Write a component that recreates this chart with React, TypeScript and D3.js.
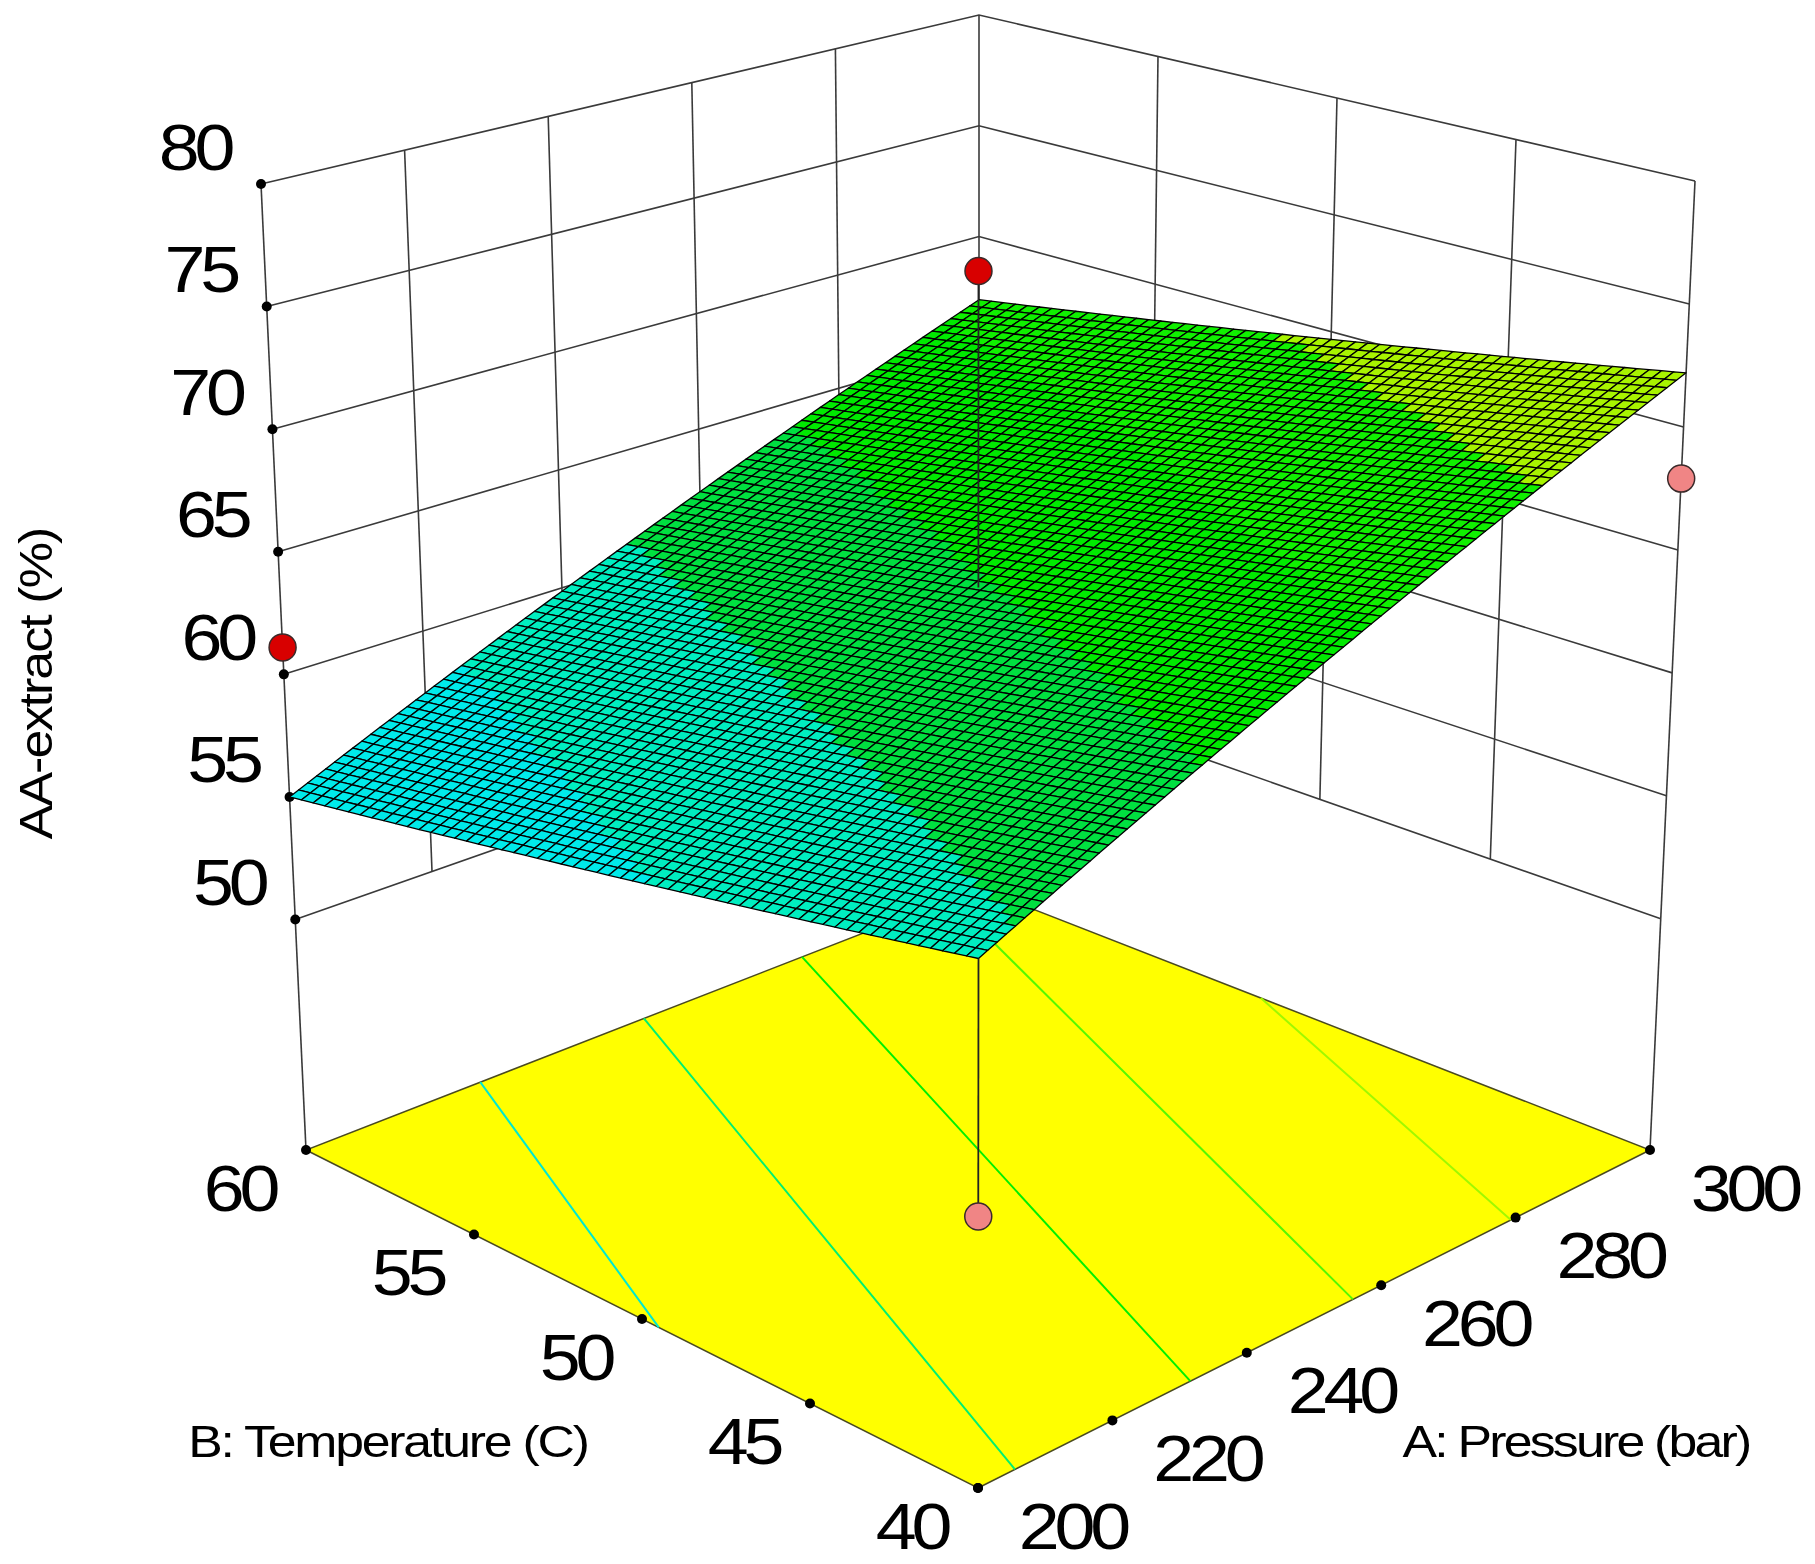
import { useEffect, useRef } from "react";
import * as d3 from "d3";

const pressureTicks = [200, 220, 240, 260, 280, 300];
const temperatureTicks = [40, 45, 50, 55, 60];
const extractTicks = [50, 55, 60, 65, 70, 75, 80];

// surface height at the four corners of the design space
const surfaceAt200 = [60.3, 55.0]; // T = 40, T = 60
const surfaceAt300 = [72.2, 67.15];

// contour lines on the floor, [pressure, temperature] at each end, low side to the left
const contourStart = [[200, 49.5], [205.5, 40], [231.6, 40], [255.8, 40], [279.3, 40]];
const contourEnd = [[225.9, 60], [250.2, 60], [273.7, 60], [295.7, 60], [300, 51.6]];
const contourColors = ["#00E8D0", "#00F070", "#00F000", "#55F800", "#A0F800"];

const bandColors = ["#00EAEA", "#00EEC0", "#00E040", "#00EA00", "#10F000", "#A8F400"];

// design points and the height of the fitted surface under them
const designPressure = [250, 200, 300, 200];
const designTemperature = [50, 40, 40, 60];
const designExtract = [77.2, 50.7, 67.9, 61.1];
const designFit = [64.3, 60.3, 72.2, 55.0];
const designColor = ["#D80000", "#F08585", "#F08585", "#D80000"];

const MESH_A = 75;
const MESH_B = 58;
const FONT = "'Liberation Sans', Arial, sans-serif";

// screen position of the box corners: [A low, B low], [A high, B low], [A high, B high], [A low, B high]
const floorQuad = [[978, 1488], [1650, 1150], [979, 888], [306, 1150]];
const topQuad = [[979, 429], [1695, 181], [979, 15], [261, 184]];

const uScale = d3.scaleLinear().domain([200, 300]).range([0, 1]);
const vScale = d3.scaleLinear().domain([40, 60]).range([0, 1]);
const wScale = d3.scaleLinear().domain([40.6, 80]).range([0, 1]);

function bilinear(q: number[][], u: number, v: number) {
  return [0, 1].map(
    (i) =>
      q[0][i] * (1 - u) * (1 - v) + q[1][i] * u * (1 - v) + q[2][i] * u * v + q[3][i] * (1 - u) * v
  );
}

function project(a: number, b: number, z: number): [number, number] {
  const u = uScale(a);
  const v = vScale(b);
  const w = wScale(z);
  const p0 = bilinear(floorQuad, u, v);
  const p1 = bilinear(topQuad, u, v);
  return [p0[0] + (p1[0] - p0[0]) * w, p0[1] + (p1[1] - p0[1]) * w];
}

function surfaceZ(a: number, b: number) {
  const u = uScale(a);
  const v = vScale(b);
  const low = surfaceAt200[0] + (surfaceAt200[1] - surfaceAt200[0]) * v;
  const high = surfaceAt300[0] + (surfaceAt300[1] - surfaceAt300[0]) * v;
  return low + (high - low) * u;
}

// a cell takes the colour of the last contour it lies beyond
function bandColor(a: number, b: number) {
  let n = 0;
  contourStart.forEach(([a0, b0], i) => {
    const [a1, b1] = contourEnd[i];
    if ((a1 - a0) * (b - b0) - (b1 - b0) * (a - a0) < 0) n += 1;
  });
  return bandColors[n];
}

export default function App() {
  const svgRef = useRef<SVGSVGElement>(null);

  useEffect(() => {
    if (!svgRef.current) return;
    const svg = d3.select(svgRef.current);
    svg.selectAll("*").remove();

    const line = d3.line();
    const zMin = wScale.domain()[0];
    const [aMin, aMax] = uScale.domain();
    const [bMin, bMax] = vScale.domain();

    const gridLine = (pts: [number, number][]) =>
      svg.append("path").attr("d", line(pts)).attr("fill", "none").attr("stroke", "#3a3a3a").attr("stroke-width", 1.6);

    // walls: height lines
    extractTicks.forEach((z) => {
      gridLine([project(aMin, bMax, z), project(aMax, bMax, z), project(aMax, bMin, z)]);
    });
    // walls: verticals
    pressureTicks.slice(1, -1).forEach((a) => gridLine([project(a, bMax, 50), project(a, bMax, 80)]));
    temperatureTicks.slice(1, -1).forEach((b) => gridLine([project(aMax, b, 50), project(aMax, b, 80)]));
    gridLine([project(aMin, bMax, zMin), project(aMin, bMax, 80)]);
    gridLine([project(aMax, bMax, zMin), project(aMax, bMax, 80)]);
    gridLine([project(aMax, bMin, zMin), project(aMax, bMin, 80)]);

    // floor
    svg
      .append("path")
      .attr(
        "d",
        line([project(aMin, bMin, zMin), project(aMax, bMin, zMin), project(aMax, bMax, zMin), project(aMin, bMax, zMin)]) + "Z"
      )
      .attr("fill", "#FFFF00")
      .attr("stroke", "#4a4a20")
      .attr("stroke-width", 1.5);

    // contours on the floor
    contourStart.forEach(([a0, b0], i) => {
      const [a1, b1] = contourEnd[i];
      svg
        .append("path")
        .attr("d", line([project(a0, b0, zMin), project(a1, b1, zMin)]))
        .attr("fill", "none")
        .attr("stroke", contourColors[i])
        .attr("stroke-width", 2);
    });

    // tick dots
    const dots: [number, number][] = [
      ...extractTicks.map((z) => project(aMin, bMax, z)),
      ...pressureTicks.map((a) => project(a, bMin, zMin)),
      ...temperatureTicks.map((b) => project(aMin, b, zMin)),
    ];
    svg
      .selectAll("circle.tick")
      .data(dots)
      .enter()
      .append("circle")
      .attr("class", "tick")
      .attr("cx", (d) => d[0])
      .attr("cy", (d) => d[1])
      .attr("r", 5)
      .attr("fill", "#000");

    // response surface mesh
    const aEdges = d3.range(MESH_A + 1).map((i) => aMin + ((aMax - aMin) * i) / MESH_A);
    const bEdges = d3.range(MESH_B + 1).map((i) => bMin + ((bMax - bMin) * i) / MESH_B);
    const mesh = svg.append("g").attr("stroke", "#000").attr("stroke-width", 1.3).attr("stroke-linejoin", "round");
    for (let j = MESH_B - 1; j >= 0; j--) {
      for (let i = MESH_A - 1; i >= 0; i--) {
        const a0 = aEdges[i];
        const a1 = aEdges[i + 1];
        const b0 = bEdges[j];
        const b1 = bEdges[j + 1];
        mesh
          .append("path")
          .attr(
            "d",
            line([
              project(a0, b0, surfaceZ(a0, b0)),
              project(a1, b0, surfaceZ(a1, b0)),
              project(a1, b1, surfaceZ(a1, b1)),
              project(a0, b1, surfaceZ(a0, b1)),
            ]) + "Z"
          )
          .attr("fill", bandColor((a0 + a1) / 2, (b0 + b1) / 2));
      }
    }

    // design points, the two on the box edges already have their drop line
    designPressure.forEach((a, i) => {
      const b = designTemperature[i];
      const [x, y] = project(a, b, designExtract[i]);
      const onEdge = (a === aMin && b === bMax) || (a === aMax && b === bMin);
      if (!onEdge) {
        svg
          .append("path")
          .attr("d", line([[x, y], project(a, b, designFit[i])]))
          .attr("stroke", "#222")
          .attr("stroke-width", 1.8);
      }
      svg
        .append("circle")
        .attr("cx", x)
        .attr("cy", y)
        .attr("r", 13.5)
        .attr("fill", designColor[i])
        .attr("stroke", "#3a2a2a")
        .attr("stroke-width", 1.5);
    });

    // the raster was stretched, so text is scaled too
    const label = (text: string, x: number, y: number, size: number, spacing: number, rotate = 0, sy = 1) =>
      svg
        .append("text")
        .attr("transform", `translate(${x},${y}) scale(1.15,${sy}) rotate(${rotate})`)
        .attr("text-anchor", "middle")
        .attr("dy", "0.36em")
        .attr("font-family", FONT)
        .attr("font-size", size)
        .attr("letter-spacing", spacing)
        .attr("fill", "#000")
        .text(text);

    extractTicks.forEach((z) => {
      const [x, y] = project(aMin, bMax, z);
      label(String(z), x - 66.5, y - 37.5, 64, -4.5);
    });
    pressureTicks.forEach((a) => {
      const [x, y] = project(a, bMin, zMin);
      label(String(a), x + 94.5, y + 37.5, 64, -4.5);
    });
    temperatureTicks.forEach((b) => {
      const [x, y] = project(aMin, b, zMin);
      label(String(b), x - 66.5, y + 37.5, 64, -4.5);
    });

    label("AA-extract (%)", 35, 684, 40, -1.5, -90, 1.3);
    label("B: Temperature (C)", 388, 1441, 45, -1.9);
    label("A: Pressure (bar)", 1576, 1441, 45, -2.4);
  }, []);

  return (
    <svg
      ref={svgRef}
      width={1815}
      height={1564}
      style={{ position: "absolute", left: 0, top: 0, display: "block", background: "#fff" }}
    />
  );
}
